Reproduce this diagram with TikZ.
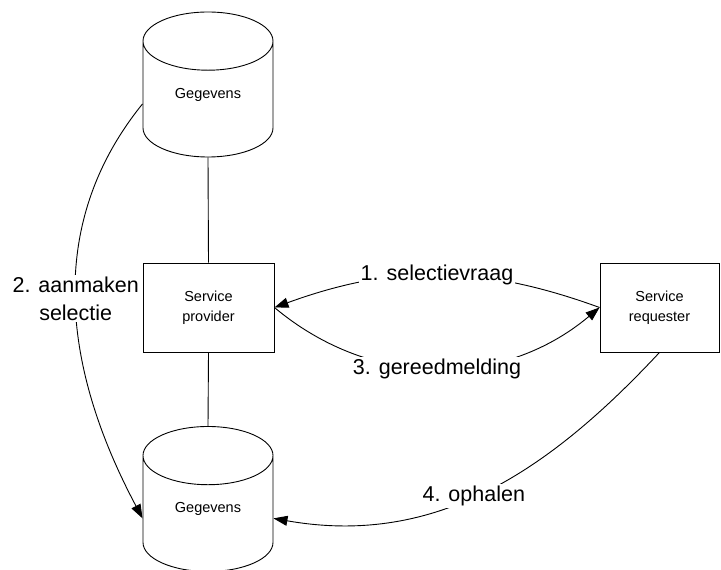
\documentclass[tikz,border=0pt]{standalone}
\usepackage{fontspec}
\setmainfont{Liberation Sans}
\usetikzlibrary{shapes.geometric,arrows.meta}

\begin{document}
\begin{tikzpicture}[x=1pt, y=1pt, line width=0.9pt,
    db/.style={draw, cylinder, shape border rotate=90, aspect=0.8, minimum width=130, minimum height=145, anchor=shape center, font=\fontsize{14.5}{20}\selectfont, text height=5pt, text depth=16.5pt},
    box/.style={draw, minimum width=131, minimum height=89, align=center, font=\fontsize{14.5}{20}\selectfont},
    lbl/.style={fill=white, inner sep=2pt, align=center, font=\fontsize{21.5}{28}\selectfont},
    arr/.style={-{Triangle[length=14pt, width=10pt]}}]
  \useasboundingbox (0,0) rectangle (721,570);
  \node[db] (dbtop) at (208,485.5) {Gegevens};
  \node[db] (dbbot) at (208,71) {Gegevens};
  \node[box] (prov) at (208.5,262.5) {Service\\provider};
  \node[box, minimum width=119] (req) at (659.5,262.5) {Service\\requester};
  \draw (dbtop.south) -- (prov.north);
  \draw (prov.south) -- (dbbot.north);
  \draw[arr] (req.west) to[bend right=20] node[lbl] {1. selectievraag} (prov.east);
  \draw[arr] (dbtop.west) to[out=231, in=118] node[lbl, pos=0.485] {2. aanmaken\\selectie} (dbbot.west);
  \draw[arr] (prov.east) to[bend right=40] node[lbl] {3. gereedmelding} (req.west);
  \draw[arr] (req.south) to[out=227, in=350] node[lbl, pos=0.53] {4. ophalen} (dbbot.east);
\end{tikzpicture}
\end{document}
